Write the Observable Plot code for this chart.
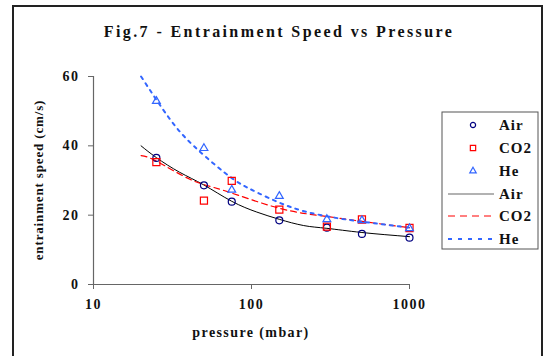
<!DOCTYPE html>
<html>
<head>
<meta charset="utf-8">
<script src="https://cdn.jsdelivr.net/npm/d3@7"></script>
<script src="https://cdn.jsdelivr.net/npm/@observablehq/plot@0.6"></script>
<style>
  html, body { margin: 0; padding: 0; background: #fff; }
  svg { font-family: "Liberation Serif", "Times New Roman", serif; }
</style>
</head>
<body>
<div id="chart"></div>
<script>
// Measured values
const pressures = [25, 50, 75, 150, 300, 500, 1000];
const airValues = [36.5, 28.6, 23.9, 18.5, 16.4, 14.6, 13.5];
const co2Values = [35.3, 24.2, 29.9, 21.6, 16.7, 18.75, 16.3];
const heValues  = [52.9, 39.3, 27.3, 25.5, 18.8, 18.5, 16.2];

// Trend-line points
const airTrendP = [20, 25, 35, 50, 75, 108, 150, 214, 300, 500, 1000];
const airTrendV = [40.0, 36.6, 32.4, 28.7, 24.0, 20.9, 18.8, 17.0, 16.2, 15.0, 13.8];
const co2TrendP = [20, 25, 41, 67, 150, 300, 500, 1000];
const co2TrendV = [37.2, 35.6, 30.3, 27.1, 22.0, 19.6, 18.2, 16.4];
const heTrendP  = [20, 30, 43, 67, 87, 108, 152, 225, 366, 592, 1000];
const heTrendV  = [60.0, 48.1, 40.0, 32.4, 28.8, 26.6, 23.5, 20.9, 19.0, 17.7, 16.4];

const xTicks = [10, 100, 1000];
const yTicks = [0, 20, 40, 60];
const legendLabels = ["Air", "CO2", "He", "Air", "CO2", "He"];

const title = "Fig.7 - Entrainment Speed vs Pressure";
const xLabel = "pressure (mbar)";
const yLabel = "entrainment speed (cm/s)";

const colors = { air: "#000080", co2: "#ff0000", he: "#3366ff", airLine: "#000000" };

const pts = (vals) => pressures.map((p, i) => ({ p, v: vals[i] }));
const trend = (ps, vs) => ps.map((p, i) => ({ p, v: vs[i] }));

const axisColor = "#666";

const chart = Plot.plot({
  width: 544,
  height: 356,
  marginLeft: 93,
  marginRight: 135,
  marginTop: 76,
  marginBottom: 72,
  x: { type: "log", domain: [10, 1000] },
  y: { domain: [0, 60] },
  style: { fontFamily: "Liberation Serif, serif", background: "#fff", overflow: "visible" },
  marks: [
    Plot.ruleY([0], { x1: 10, x2: 1000, stroke: axisColor, strokeWidth: 1.2 }),
    Plot.ruleX([10], { y1: 0, y2: 60, stroke: axisColor, strokeWidth: 1.2 }),
    Plot.axisX({ ticks: xTicks, tickFormat: d => String(d), tickSize: 5, tickPadding: 10,
      stroke: axisColor, fill: "#111", fontSize: 14, fontWeight: "bold", label: null }),
    Plot.axisY({ ticks: yTicks, tickFormat: d => String(d), tickSize: 5, tickPadding: 9,
      stroke: axisColor, fill: "#111", fontSize: 14, fontWeight: "bold", label: null }),
    Plot.line(trend(airTrendP, airTrendV), { x: "p", y: "v", stroke: colors.airLine, strokeWidth: 1, curve: "natural" }),
    Plot.line(trend(co2TrendP, co2TrendV), { x: "p", y: "v", stroke: colors.co2, strokeWidth: 1.2, strokeDasharray: "6,4", curve: "natural" }),
    Plot.line(trend(heTrendP, heTrendV), { x: "p", y: "v", stroke: colors.he, strokeWidth: 2, strokeDasharray: "3,5", curve: "natural" }),
    Plot.dot(pts(airValues), { x: "p", y: "v", symbol: "circle", r: 3.5, stroke: colors.air, strokeWidth: 1.2, fill: "none" }),
    Plot.dot(pts(co2Values), { x: "p", y: "v", symbol: "square", r: 4, stroke: colors.co2, strokeWidth: 1.2, fill: "none" }),
    Plot.dot(pts(heValues), { x: "p", y: "v", symbol: "triangle", r: 2.9, stroke: colors.he, strokeWidth: 1.2, fill: "none" })
  ]
});

document.getElementById("chart").appendChild(chart);
const svg = d3.select(chart);
svg.selectAll("g[aria-label='x-axis tick label'] text, g[aria-label='y-axis tick label'] text")
  .attr("letter-spacing", "1.5px");

// outer frame
svg.append("rect").attr("x", 13).attr("y", 6).attr("width", 529).attr("height", 370)
  .attr("fill", "none").attr("stroke", "#222").attr("stroke-width", 2);

// title
svg.append("text").attr("x", 279).attr("y", 37).attr("text-anchor", "middle")
  .attr("font-size", 16).attr("font-weight", "bold").attr("letter-spacing", "2.4px")
  .attr("fill", "#111").text(title);

// x label
svg.append("text").attr("x", 251).attr("y", 337).attr("text-anchor", "middle")
  .attr("font-size", 14).attr("font-weight", "bold").attr("letter-spacing", "1.4px")
  .attr("fill", "#111").text(xLabel);

// y label
svg.append("text").attr("transform", "translate(43,180) rotate(-90)").attr("text-anchor", "middle")
  .attr("font-size", 13).attr("font-weight", "bold").attr("letter-spacing", "0.85px")
  .attr("fill", "#111").text(yLabel);

// legend
const lg = svg.append("g");
lg.append("rect").attr("x", 442).attr("y", 112).attr("width", 96).attr("height", 137)
  .attr("fill", "#fff").attr("stroke", "#555").attr("stroke-width", 1);
const rowY = [125, 148, 171, 194, 216, 239];
const symDefs = [
  { type: "circle", color: colors.air, r: 2.6 },
  { type: "square", color: colors.co2, r: 3 },
  { type: "triangle", color: colors.he, r: 2.4 }
];
symDefs.forEach((s, i) => {
  const sym = s.type === "circle" ? d3.symbolCircle : s.type === "square" ? d3.symbolSquare : d3.symbolTriangle;
  lg.append("path").attr("d", d3.symbol(sym, Math.PI * s.r * s.r)())
    .attr("transform", `translate(473,${rowY[i]})`)
    .attr("fill", "none").attr("stroke", s.color).attr("stroke-width", 1.2);
});
const lineDefs = [
  { color: "#666", dash: null, w: 1.2 },
  { color: colors.co2, dash: "7,5", w: 1.2 },
  { color: colors.he, dash: "4,6", w: 2 }
];
lineDefs.forEach((l, i) => {
  const ln = lg.append("line").attr("x1", 448).attr("x2", 494)
    .attr("y1", rowY[i + 3]).attr("y2", rowY[i + 3])
    .attr("stroke", l.color).attr("stroke-width", l.w);
  if (l.dash) ln.attr("stroke-dasharray", l.dash);
});
legendLabels.forEach((t, i) => {
  lg.append("text").attr("x", 499).attr("y", rowY[i]).attr("dy", "0.35em")
    .attr("text-anchor", "start")
    .attr("font-size", 15).attr("font-weight", "bold").attr("letter-spacing", "1px")
    .attr("fill", "#111").text(t);
});
</script>
</body>
</html>
